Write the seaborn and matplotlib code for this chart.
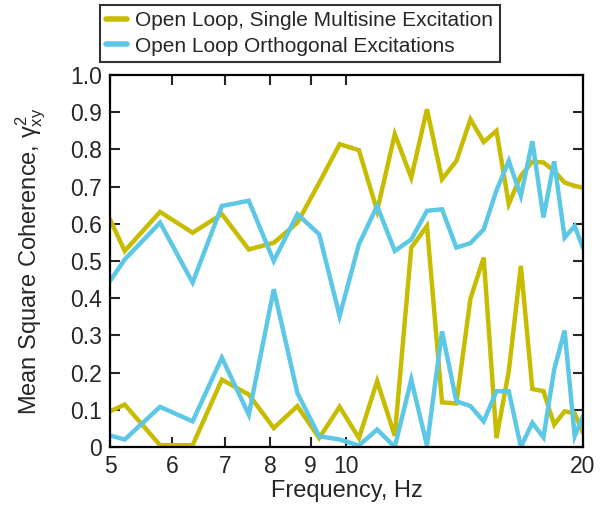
import numpy as np
import pandas as pd
import matplotlib
matplotlib.use("Agg")
import matplotlib.pyplot as plt
import seaborn as sns
from matplotlib.ticker import FixedLocator, FixedFormatter, NullLocator

freqs = [5.0, 5.22, 5.79, 6.37, 6.94, 7.51, 8.08, 8.66, 9.23, 9.80, 10.37, 10.94, 11.52, 12.09,
         12.66, 13.23, 13.80, 14.38, 14.95, 15.52, 16.09, 16.67, 17.24, 17.81, 18.38, 18.95, 19.52, 20.0]

single_upper = [0.612, 0.527, 0.632, 0.576, 0.626, 0.531, 0.549, 0.603, 0.71, 0.814, 0.798, 0.635, 0.841, 0.724,
                0.908, 0.720, 0.769, 0.881, 0.820, 0.850, 0.653, 0.729, 0.767, 0.765, 0.742, 0.711, 0.702, 0.697]
single_lower = [0.096, 0.114, 0.005, 0.005, 0.181, 0.141, 0.051, 0.110, 0.024, 0.108, 0.024, 0.177, 0.030, 0.536,
                0.594, 0.120, 0.117, 0.399, 0.509, 0.024, 0.204, 0.487, 0.156, 0.150, 0.060, 0.096, 0.090, 0.038]
ortho_upper = [0.446, 0.504, 0.603, 0.442, 0.648, 0.662, 0.500, 0.626, 0.572, 0.352, 0.545, 0.648, 0.527, 0.558,
               0.635, 0.639, 0.536, 0.548, 0.585, 0.690, 0.769, 0.675, 0.822, 0.617, 0.768, 0.563, 0.594, 0.535]
ortho_lower = [0.031, 0.020, 0.108, 0.069, 0.240, 0.087, 0.424, 0.145, 0.029, 0.020, 0.004, 0.047, 0.000, 0.181,
               0.004, 0.311, 0.123, 0.110, 0.069, 0.150, 0.150, 0.000, 0.065, 0.026, 0.208, 0.313, 0.029, 0.083]

labels = ["Open Loop, Single Multisine Excitation", "Open Loop Orthogonal Excitations"]
x_ticks = [5, 6, 7, 8, 9, 10, 20]
y_ticks = [0, 0.1, 0.2, 0.3, 0.4, 0.5, 0.6, 0.7, 0.8, 0.9, 1.0]
y_ticklabels = ["0", "0.1", "0.2", "0.3", "0.4", "0.5", "0.6", "0.7", "0.8", "0.9", "1.0"]

YEL = "#C8BC00"
BLU = "#5CC8E6"

sns.set_style("ticks")
plt.rcParams["font.family"] = ["Liberation Sans", "DejaVu Sans"]
plt.rcParams["mathtext.fontset"] = "custom"
plt.rcParams["mathtext.rm"] = "Liberation Sans"
plt.rcParams["mathtext.it"] = "Liberation Sans"

fig = plt.figure(figsize=(6.03, 5.08), dpi=100)
ax = fig.add_axes([110/603, 1-447/508, (583-110)/603, (447-75)/508])

curves = [
    (single_upper, YEL, labels[0]),
    (ortho_upper, BLU, labels[1]),
    (single_lower, YEL, None),
    (ortho_lower, BLU, None),
]
for vals, col, lab in curves:
    df = pd.DataFrame({"f": freqs, "v": vals})
    sns.lineplot(data=df, x="f", y="v", ax=ax, color=col, linewidth=3.2,
                 label=lab, legend=False, solid_joinstyle="miter")

ax.set_xscale("log")
ax.set_xlim(5, 20)
ax.set_ylim(0, 1.0)
ax.xaxis.set_major_locator(FixedLocator(x_ticks))
ax.xaxis.set_major_formatter(FixedFormatter([str(t) for t in x_ticks]))
ax.xaxis.set_minor_locator(NullLocator())
ax.yaxis.set_major_locator(FixedLocator(y_ticks))
ax.yaxis.set_major_formatter(FixedFormatter(y_ticklabels))

ax.tick_params(direction="in", length=7, width=1.5, labelsize=16.5, top=True, right=True, pad=6)
for s in ax.spines.values():
    s.set_linewidth(1.6)
    s.set_color("black")

ax.set_xlabel("Frequency, Hz", fontsize=17, labelpad=1)
ax.set_ylabel(r"Mean Square Coherence, $\gamma^2_{\rm xy}$", fontsize=17, labelpad=16)

handles, labs = ax.get_legend_handles_labels()
leg = fig.legend(handles, labs, loc="upper left", bbox_to_anchor=(100/603, 1-5/508),
                 fontsize=15, frameon=True, fancybox=False, handlelength=1.0,
                 handletextpad=0.4, borderpad=0.3, labelspacing=0.3, borderaxespad=0)
leg.get_frame().set_edgecolor("black")
leg.get_frame().set_linewidth(1.5)
for line in leg.get_lines():
    line.set_linewidth(4)

fig.savefig("out.png", dpi=100)
